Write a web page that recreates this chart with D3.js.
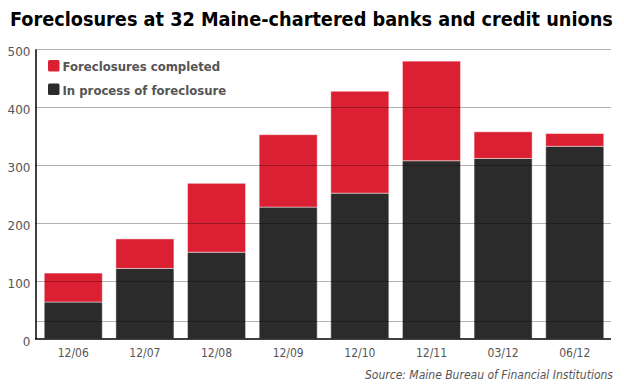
<!DOCTYPE html>
<html>
<head>
<meta charset="utf-8">
<script src="https://cdn.jsdelivr.net/npm/d3@7"></script>
<style>
  body { margin: 0; background: #fff; }
  svg { display: block; }
</style>
</head>
<body>
<div id="chart"></div>
<script>
// data
var periods = ["12/06", "12/07", "12/08", "12/09", "12/10", "12/11", "03/12", "06/12"];
var inProcess = [63, 121, 149, 227, 251, 307, 311, 332];
var completed = [50, 51, 119, 125, 176, 172, 46, 22];
var yTicks = [0, 100, 200, 300, 400, 500];
var gridValues = [31, 100, 200, 300, 400, 500];
var seriesNames = ["Foreclosures completed", "In process of foreclosure"];
var seriesColors = ["#dc2033", "#2b2b2b"];

var width = 624, height = 390;
var margin = { top: 49, right: 13, bottom: 51, left: 35 };

var svg = d3.select("#chart")
    .append("svg")
    .attr("width", width)
    .attr("height", height);

var x = d3.scaleBand()
    .domain(periods)
    .range([margin.left + 1, width - margin.right + 1])
    .paddingInner(0.19)
    .paddingOuter(0.115);

var y = d3.scaleLinear()
    .domain([0, 500])
    .range([height - margin.bottom - 0.5, margin.top]);

// stacked data
var rows = periods.map(function (p, i) {
    return { period: p, inProcess: inProcess[i], completed: completed[i] };
});
var stack = d3.stack().keys(["completed", "inProcess"].reverse());
var layers = stack(rows);
var colorByKey = { completed: seriesColors[0], inProcess: seriesColors[1] };

// bars
svg.append("g")
    .selectAll("g")
    .data(layers)
    .enter()
    .append("g")
    .attr("fill", d => colorByKey[d.key])
    .selectAll("rect")
    .data(d => d)
    .enter()
    .append("rect")
    .attr("x", d => x(d.data.period))
    .attr("y", d => y(d[1]))
    .attr("width", x.bandwidth())
    .attr("height", d => y(d[0]) - y(d[1]))
    .attr("stroke", "rgba(255,255,255,0.45)")
    .attr("stroke-width", 1);

// gridlines drawn over the bars
svg.append("g")
    .selectAll("line")
    .data(gridValues)
    .enter()
    .append("line")
    .attr("x1", margin.left)
    .attr("x2", width - margin.right)
    .attr("y1", d => Math.round(y(d)) + 0.5)
    .attr("y2", d => Math.round(y(d)) + 0.5)
    .attr("stroke", "rgba(0,0,0,0.3)")
    .attr("stroke-width", 1);

// y axis
var yAxis = svg.append("g")
    .attr("transform", "translate(" + (margin.left + 0.5) + ",0)")
    .call(d3.axisLeft(y).tickValues(yTicks).tickSize(0).tickPadding(5));
yAxis.select(".domain").attr("stroke", "#000").attr("stroke-width", 1.5);
yAxis.selectAll("text")
    .attr("font-family", "Verdana, 'DejaVu Sans', sans-serif")
    .attr("font-size", 12)
    .attr("fill", "#555")
    .attr("dy", "0.55em");

// x axis
var xAxis = svg.append("g")
    .attr("transform", "translate(0," + (height - margin.bottom) + ")")
    .call(d3.axisBottom(x).tickSize(0).tickPadding(9));
xAxis.select(".domain")
    .attr("d", "M" + margin.left + ",0H" + (width - margin.right))
    .attr("stroke", "#000")
    .attr("stroke-width", 1.5);
xAxis.selectAll("text")
    .attr("font-family", "'DejaVu Sans Condensed', 'DejaVu Sans', sans-serif")
    .attr("font-size", 12)
    .attr("fill", "#555");

// legend
var legend = svg.append("g")
    .selectAll("g")
    .data(seriesNames)
    .enter()
    .append("g")
    .attr("transform", (d, i) => "translate(48," + (60 + i * 23.5) + ")");
legend.append("rect")
    .attr("width", 11.5)
    .attr("height", 11.5)
    .attr("rx", 1.5)
    .attr("fill", (d, i) => seriesColors[i]);
legend.append("text")
    .attr("x", 14.5)
    .attr("y", 11)
    .attr("font-family", "'DejaVu Sans Condensed', 'DejaVu Sans', sans-serif")
    .attr("font-weight", "bold")
    .attr("font-size", 13)
    .attr("fill", "#555")
    .text(d => d);

// title
var title = svg.append("text")
    .attr("x", 10)
    .attr("y", 26)
    .attr("font-family", "'DejaVu Sans Condensed', 'DejaVu Sans', sans-serif")
    .attr("font-weight", "bold")
    .attr("font-size", 20)
    .attr("fill", "#000")
    .text("Foreclosures at 32 Maine-chartered banks and credit unions");
var tw = title.node().getComputedTextLength();
title.attr("font-size", 20 * 603 / tw);

// source
svg.append("text")
    .attr("x", 613)
    .attr("y", 379)
    .attr("text-anchor", "end")
    .attr("font-family", "'DejaVu Sans Condensed', 'DejaVu Sans', sans-serif")
    .attr("font-style", "italic")
    .attr("font-size", 12)
    .attr("fill", "#555")
    .text("Source: Maine Bureau of Financial Institutions");
</script>
</body>
</html>
